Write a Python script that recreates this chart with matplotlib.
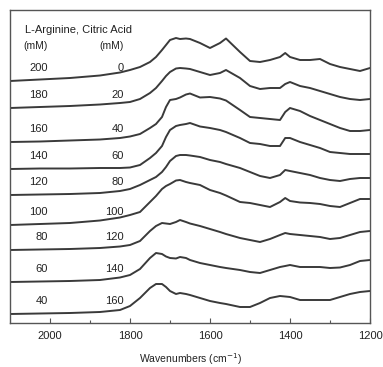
import matplotlib
matplotlib.use("Agg")
import matplotlib.pyplot as plt
import numpy as np

plt.rcParams['font.family'] = ['Liberation Sans', 'DejaVu Sans']

# wavenumber grid (cm-1), shared by all spectra
wavenumber = [2100, 2025, 1950, 1875, 1825, 1800, 1775, 1750, 1735, 1720,
              1710, 1700, 1685, 1675, 1660, 1650, 1625, 1600, 1575, 1560,
              1525, 1500, 1475, 1450, 1425, 1412, 1400, 1375, 1350, 1325,
              1300, 1275, 1250, 1225, 1200]

arginine = [200, 180, 160, 140, 120, 100, 80, 60, 40]
citric = [0, 20, 40, 60, 80, 100, 120, 140, 160]

# stacked absorbance traces (arbitrary units, offset already included)
s200 = [242, 243.5, 245, 247.5, 250.5, 253, 256, 261, 266, 273, 278, 283, 285, 284, 284.5, 284, 280, 275, 280, 284.5,
        271, 262, 261, 263, 266, 270, 266, 263, 263, 264, 259, 256, 254, 252, 255]
s180 = [215, 216, 217, 218.5, 220, 221, 224, 230, 235, 242, 247, 251, 254.5, 255, 254.5, 254, 251, 248, 250, 253,
        245, 237, 234, 235, 235, 239, 241, 237, 235, 232, 229, 226, 224, 223, 224]
s160 = [181, 181.5, 182.5, 183.5, 185, 186.5, 189, 195, 199, 206, 216, 223, 224, 225.5, 228.5, 229.5, 225.5, 226, 224.5, 222.5,
        213, 206, 205, 204, 203, 211, 215, 212, 207, 203, 199, 195, 192, 192, 193]
s140 = [154, 154.5, 154.5, 155, 155, 155.5, 158, 165, 170, 177, 186, 193, 197, 198, 199, 200, 196.5, 195, 193, 191,
        185, 180, 179, 177, 177, 185, 185, 181, 178, 175, 171, 170, 169, 169, 169]
s120 = [128, 128.5, 129, 130, 132, 134, 138, 143, 146, 151, 156, 162, 167, 168, 168, 167.5, 166, 163, 161, 159,
        155, 151, 147, 145, 148, 153, 152, 150, 148, 145, 143, 142, 144, 145, 145]
s100 = [98, 99, 100, 102.5, 105.5, 108, 111, 121, 127, 134, 137, 139, 142.5, 143, 141, 140, 138, 133, 130, 127.5,
        121, 120, 118, 116, 121, 125, 122, 120.5, 120, 119, 117, 116, 120, 124, 124]
s80 = [73, 73.5, 74, 75, 76.5, 78, 82, 92, 97, 100, 99.5, 99, 101, 103, 101, 99.5, 97, 94, 91, 89,
       85, 83, 81, 84, 88, 90, 89, 88, 87, 86, 84, 85, 88, 91, 92]
s60 = [41, 41.5, 42, 43, 45.5, 48, 54, 65, 70, 69, 66.5, 65, 64.5, 66, 65, 63, 60, 58, 56, 55,
       53, 51, 50, 53, 56, 57, 58, 56, 56, 56, 55, 55.5, 58, 62, 63]
s40 = [9, 9.5, 10, 11, 13, 17, 25, 35, 39, 39, 36, 32, 29, 30, 29, 28, 25, 22, 20, 19,
       16, 16, 20, 25, 27, 26.5, 26, 23, 23, 23, 23, 26, 29, 31, 32]
spectra = [s200, s180, s160, s140, s120, s100, s80, s60, s40]

fig = plt.figure(figsize=(3.83, 3.67), dpi=100)
ax = fig.add_axes([10/383, 44/367, 360/383, 313/367])

line_col = '#3a3a3a'
for arg, cit, sp in zip(arginine, citric, spectra):
    ax.plot(wavenumber, sp, color=line_col, lw=1.4, solid_joinstyle='round')
    ax.text(2005, sp[0] + 13, str(arg), ha='right', va='center', fontsize=8, color='#222222')
    ax.text(1815, sp[0] + 13, str(cit), ha='right', va='center', fontsize=8, color='#222222')

ax.text(2062, 293, 'L-Arginine, Citric Acid', ha='left', va='center', fontsize=8, color='#222222')
ax.text(2035, 277, '(mM)', ha='center', va='center', fontsize=7.5, color='#222222')
ax.text(1845, 277, '(mM)', ha='center', va='center', fontsize=7.5, color='#222222')

ax.set_xlim(2100, 1200)
ax.set_ylim(0, 313)
ax.set_yticks([])
ax.set_xticks([2000, 1800, 1600, 1400, 1200])
ax.set_xticks([1900, 1700, 1500, 1300], minor=True)
ax.tick_params(axis='x', which='major', direction='in', length=3.5, width=0.8, pad=6,
               labelsize=8, colors='#555555', labelcolor='#222222')
ax.tick_params(axis='x', which='minor', direction='in', length=2, width=0.8, colors='#555555')
for sp_ in ax.spines.values():
    sp_.set_color('#555555')
    sp_.set_linewidth(1.0)

ax.set_xlabel('Wavenumbers (cm$^{-1}$)', fontsize=7.5, color='#222222', labelpad=7)

fig.savefig('out.png', dpi=100)
